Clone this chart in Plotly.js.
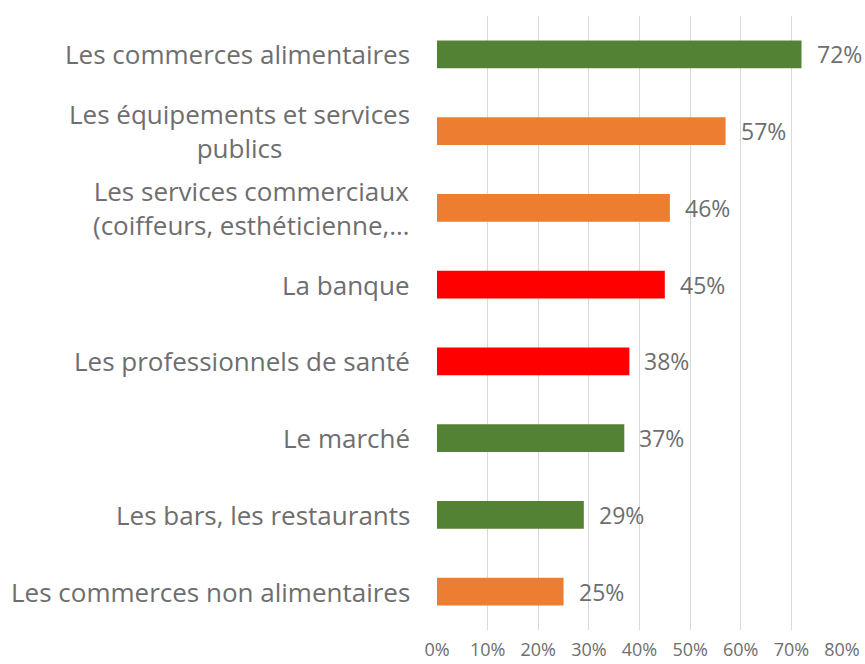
<!DOCTYPE html>
<html>
<head>
<meta charset="utf-8">
<script src="https://cdn.plot.ly/plotly-3.0.1.min.js"></script>
<style>
  html, body { margin: 0; padding: 0; background: #fff; }
  #chart { width: 865px; height: 664px; }
</style>
</head>
<body>
<div id="chart"></div>
<script>
// Catégories (de haut en bas)
const categories = [
    'Les commerces alimentaires',
    'Les équipements et services<br>publics',
    'Les services commerciaux<br>(coiffeurs, esthéticienne,…',
    'La banque',
    'Les professionnels de santé',
    'Le marché',
    'Les bars, les restaurants',
    'Les commerces non alimentaires'
];
const values = [72, 57, 46, 45, 38, 37, 29, 25];
const barColors = ['#548235', '#ED7D31', '#ED7D31', '#FF0000', '#FF0000', '#548235', '#548235', '#ED7D31'];
const tickValues = [0, 10, 20, 30, 40, 50, 60, 70, 80];
const tickLabels = ['0%', '10%', '20%', '30%', '40%', '50%', '60%', '70%', '80%'];

const textColor = '#6e6e6e';
const fontFamily = 'Open Sans, sans-serif';

const trace = {
    type: 'bar',
    orientation: 'h',
    x: values,
    y: categories,
    marker: { color: barColors },
    hoverinfo: 'skip'
};

// Étiquettes des catégories, bloc aligné à droite, lignes centrées
const annotations = categories.map(function (cat) {
    return {
        xref: 'paper', yref: 'y',
        x: 0, y: cat,
        xanchor: 'right', yanchor: 'middle',
        xshift: -25,
        align: 'center',
        text: cat,
        showarrow: false,
        font: { family: fontFamily, size: 26, color: textColor }
    };
});

// Valeurs à droite des barres
values.forEach(function (v, i) {
    annotations.push({
        xref: 'x', yref: 'y',
        x: v, y: categories[i],
        xanchor: 'left', yanchor: 'middle',
        xshift: 13,
        text: v + '%',
        showarrow: false,
        font: { family: fontFamily, size: 23, color: textColor }
    });
});

const layout = {
    width: 865,
    height: 664,
    margin: { l: 437, r: 23, t: 16, b: 34 },
    paper_bgcolor: '#ffffff',
    plot_bgcolor: '#ffffff',
    showlegend: false,
    bargap: 0.64,
    font: { family: fontFamily, color: textColor },
    xaxis: {
        range: [0, 80],
        tickvals: tickValues,
        ticktext: tickLabels,
        showgrid: true,
        gridcolor: '#d9d9d9',
        gridwidth: 1,
        zeroline: false,
        showline: false,
        ticks: '',
        ticklabelstandoff: 7,
        tickfont: { family: fontFamily, size: 18, color: textColor },
        fixedrange: true
    },
    yaxis: {
        categoryorder: 'array',
        categoryarray: categories,
        autorange: 'reversed',
        showticklabels: false,
        showgrid: false,
        zeroline: false,
        showline: false,
        ticks: '',
        fixedrange: true
    },
    annotations: annotations
};

Plotly.newPlot('chart', [trace], layout, { displayModeBar: false, staticPlot: true });
</script>
</body>
</html>
